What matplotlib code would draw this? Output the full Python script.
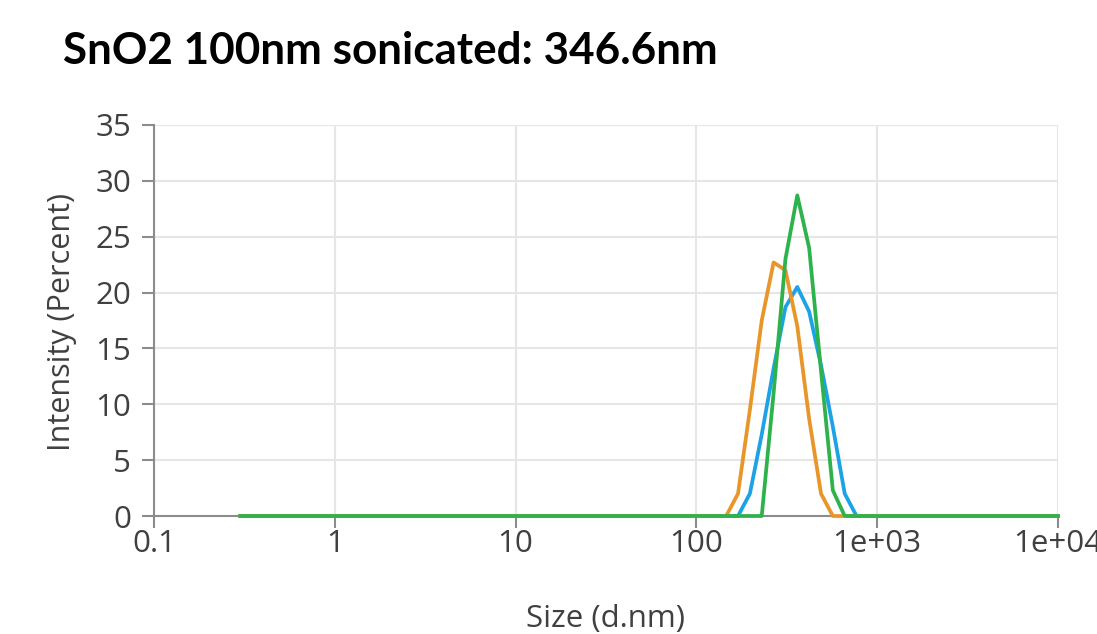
import matplotlib
matplotlib.use("Agg")
import matplotlib.pyplot as plt
from matplotlib.ticker import FixedLocator, FixedFormatter, NullLocator

# ---- data ----
sizes = [0.3, 146.1, 169.9, 197.6, 229.8, 267.3, 310.8, 361.4, 420.3, 488.9,
         568.4, 661.2, 768.8, 10000]
blue = [0, 0, 0, 2.0, 7.3, 13.2, 18.7, 20.5, 18.3, 13.5, 8.0, 2.0, 0, 0]
orange = [0, 0, 2.0, 9.5, 17.5, 22.7, 22.0, 17.0, 8.7, 2.0, 0, 0, 0, 0]
green = [0, 0, 0, 0, 0, 11.0, 23.0, 28.7, 24.0, 13.0, 2.3, 0, 0, 0]

x_ticks = [0.1, 1, 10, 100, 1000, 10000]
x_tick_labels = ["0.1", "1", "10", "100", "1e+03", "1e+04"]
y_ticks = [0, 5, 10, 15, 20, 25, 30, 35]
y_tick_labels = ["0", "5", "10", "15", "20", "25", "30", "35"]

title = "SnO2 100nm sonicated: 346.6nm"
x_label = "Size (d.nm)"
y_label = "Intensity (Percent)"

W, H = 1097, 634
fig = plt.figure(figsize=(W / 100, H / 100), dpi=100)
ax = fig.add_axes([154 / W, (H - 516) / H, (1058 - 154) / W, (516 - 125) / H])

ax.set_xscale("log")
ax.set_xlim(0.1, 10000)
ax.set_ylim(0, 35)

grid_c = "#e6e6e6"
axis_c = "#8c8c8c"
fs = 22.5

ax.xaxis.set_major_locator(FixedLocator(x_ticks))
ax.xaxis.set_major_formatter(FixedFormatter(x_tick_labels))
ax.xaxis.set_minor_locator(NullLocator())
ax.yaxis.set_major_locator(FixedLocator(y_ticks))
ax.yaxis.set_major_formatter(FixedFormatter(y_tick_labels))

ax.grid(True, color=grid_c, linewidth=1.5, zorder=0)
ax.set_axisbelow(True)

for s in ["top", "right"]:
    ax.spines[s].set_visible(False)
for s in ["left", "bottom"]:
    ax.spines[s].set_color(axis_c)
    ax.spines[s].set_linewidth(1.5)

ax.tick_params(axis="both", colors=axis_c, length=8.5, width=1.5, direction="out")
ax.tick_params(axis="x", pad=1)
ax.tick_params(axis="y", pad=8)
for lab in ax.get_xticklabels() + ax.get_yticklabels():
    lab.set_fontfamily("Open Sans")
    lab.set_fontsize(fs)
    lab.set_color("#404040")

lw = 2.7
ax.plot(sizes, blue, color="#1ba3e6", linewidth=lw, solid_joinstyle="round", zorder=3, clip_on=False)
ax.plot(sizes, orange, color="#e8962a", linewidth=lw, solid_joinstyle="round", zorder=4, clip_on=False)
ax.plot(sizes, green, color="#2eb34c", linewidth=lw, solid_joinstyle="round", zorder=5, clip_on=False)

fig.text(63 / W, 1 - 64 / H, title, family="Lato", weight="bold", size=31.7,
         ha="left", va="baseline", color="black")
fig.text(606 / W, 1 - 619 / H, x_label, family="Open Sans", size=fs,
         ha="center", va="center", color="#404040")
fig.text(62 / W, 1 - 322 / H, y_label, family="Open Sans", size=fs - 0.5,
         ha="center", va="center", rotation=90, color="#404040")

fig.savefig("out.png", dpi=100)
